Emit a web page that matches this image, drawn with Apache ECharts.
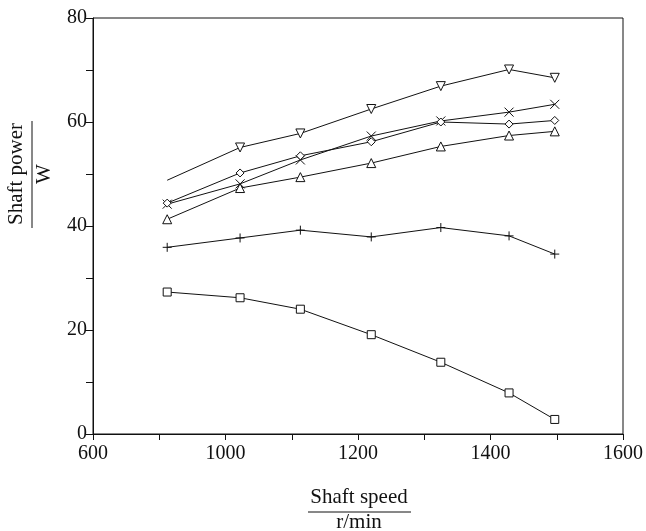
<!DOCTYPE html>
<html>
<head>
<meta charset="utf-8">
<script src="https://cdn.jsdelivr.net/npm/echarts@6/dist/echarts.min.js"></script>
<style>
html,body{margin:0;padding:0;background:#fff;}
#chart{width:646px;height:531px;}
</style>
</head>
<body>
<div id="chart"></div>
<script>
// Shaft speed (r/min) of the measured points
const speeds = [912, 1022, 1113, 1220, 1325, 1428, 1497];
// Shaft power (W) for each curve
const seriesDown    = [48.8, 55.1, 57.8, 62.5, 66.9, 70.1, 68.5];
const seriesCross   = [44.2, 48.1, 52.7, 57.3, 60.2, 61.9, 63.4];
const seriesDiamond = [44.4, 50.2, 53.5, 56.2, 60.0, 59.6, 60.3];
const seriesUp      = [41.3, 47.3, 49.4, 52.1, 55.3, 57.4, 58.2];
const seriesPlus    = [35.9, 37.7, 39.2, 37.9, 39.7, 38.1, 34.6];
const seriesSquare  = [27.3, 26.2, 24.0, 19.1, 13.8, 7.9, 2.8];
// Axis tick labels (as printed in the reference)
const xTickValues = [800, 1000, 1200, 1400, 1600];
const xTickLabels = ['600', '1000', '1200', '1400', '1600'];
const yTickValues = [0, 20, 40, 60, 80];
const yTickLabels = ['0', '20', '40', '60', '80'];

const FONT = 'Liberation Serif';
const INK = '#111';

function pairs(vals) { return speeds.map((x, i) => [x, vals[i]]); }

function mkSeries(name, vals, symbol, size, extra) {
  return Object.assign({
    name: name,
    type: 'line',
    data: pairs(vals),
    symbol: symbol,
    symbolSize: size,
    showAllSymbol: true,
    lineStyle: { color: INK, width: 1 },
    itemStyle: { color: '#fff', borderColor: INK, borderWidth: 1 },
    emphasis: { disabled: true },
    animation: false,
    z: 3
  }, extra || {});
}

const downData = pairs(seriesDown).map((p, i) => i === 0 ? { value: p, symbol: 'none' } : { value: p });

const chart = echarts.init(document.getElementById('chart'), null, { renderer: 'canvas' });
chart.setOption({
  backgroundColor: '#fff',
  animation: false,
  grid: {
    left: 93, right: 22, top: 18, bottom: 97,
    show: true, borderColor: INK, borderWidth: 1, backgroundColor: 'transparent'
  },
  xAxis: {
    type: 'value', min: 800, max: 1600, interval: 100,
    axisLine: { lineStyle: { color: INK, width: 1 } },
    axisTick: { show: true, inside: false, length: 6, lineStyle: { color: INK } },
    splitLine: { show: false },
    axisLabel: {
      color: INK, fontFamily: FONT, fontSize: 20, margin: 10,
      showMinLabel: true, showMaxLabel: true,
      formatter: function (v) {
        const i = xTickValues.indexOf(v);
        return i >= 0 ? xTickLabels[i] : '';
      }
    }
  },
  yAxis: {
    type: 'value', min: 0, max: 80, interval: 10,
    axisLine: { show: true, lineStyle: { color: INK, width: 1 } },
    axisTick: { show: true, inside: false, length: 7, lineStyle: { color: INK } },
    splitLine: { show: false },
    axisLabel: {
      color: INK, fontFamily: FONT, fontSize: 20, margin: 6,
      showMinLabel: true, showMaxLabel: true,
      formatter: function (v) {
        const i = yTickValues.indexOf(v);
        return i >= 0 ? yTickLabels[i] : '';
      }
    }
  },
  series: [
    mkSeries('down', seriesDown, 'triangle', 9, { symbolRotate: 180, data: downData }),
    mkSeries('cross', seriesCross, 'path://M0,0L10,10M10,0L0,10', 9),
    mkSeries('diamond', seriesDiamond, 'diamond', 8),
    mkSeries('up', seriesUp, 'triangle', 9),
    mkSeries('plus', seriesPlus, 'path://M5,0L5,10M0,5L10,5', 9),
    mkSeries('square', seriesSquare, 'rect', 8)
  ],
  graphic: [
    { type: 'text', x: 16, y: 174, rotation: Math.PI / 2,
      style: { text: 'Shaft power', font: '21px "Liberation Serif"', fill: INK, textAlign: 'center', textVerticalAlign: 'middle' } },
    { type: 'line', shape: { x1: 32, y1: 121, x2: 32, y2: 228 }, style: { stroke: INK, lineWidth: 1 } },
    { type: 'text', x: 44, y: 174, rotation: Math.PI / 2,
      style: { text: 'W', font: '21px "Liberation Serif"', fill: INK, textAlign: 'center', textVerticalAlign: 'middle' } },
    { type: 'text', x: 359, y: 497,
      style: { text: 'Shaft speed', font: '21px "Liberation Serif"', fill: INK, textAlign: 'center', textVerticalAlign: 'middle' } },
    { type: 'line', shape: { x1: 308, y1: 512, x2: 411, y2: 512 }, style: { stroke: INK, lineWidth: 1 } },
    { type: 'text', x: 359, y: 522,
      style: { text: 'r/min', font: '21px "Liberation Serif"', fill: INK, textAlign: 'center', textVerticalAlign: 'middle' } }
  ]
});
</script>
</body>
</html>
